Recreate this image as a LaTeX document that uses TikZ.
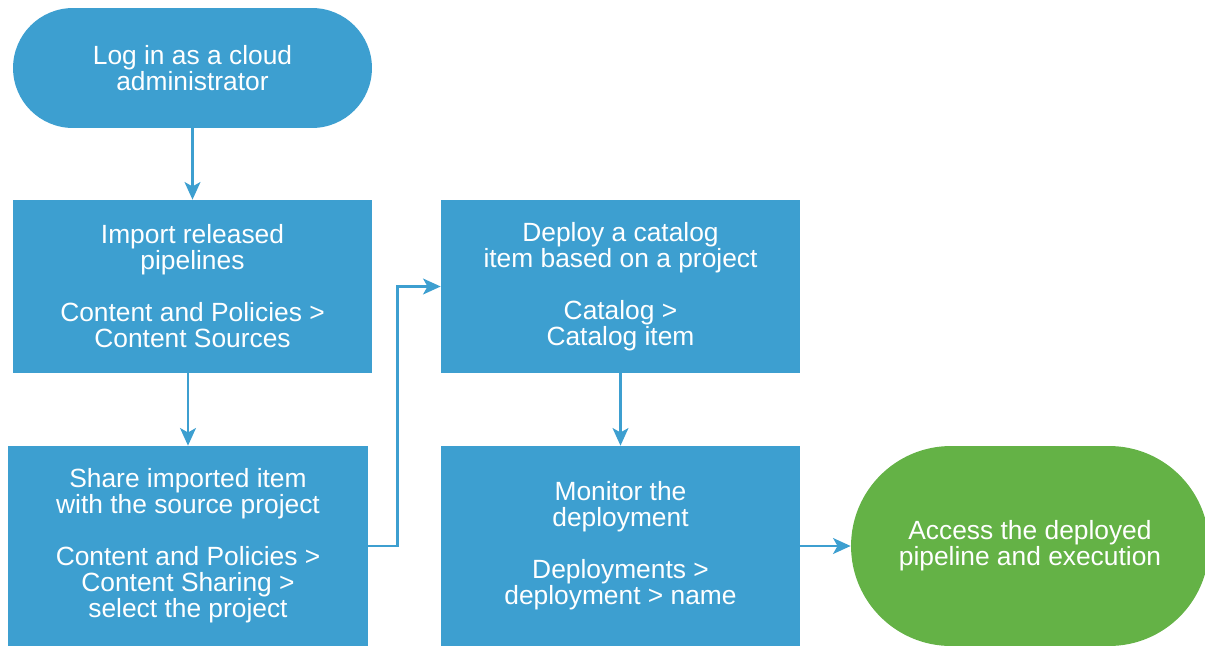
\documentclass[tikz,border=0pt]{standalone}
\usepackage{fontspec}
\setmainfont{Liberation Sans}
\usepackage{tikz}
\usetikzlibrary{arrows.meta}

\definecolor{flowblue}{HTML}{3D9FD0}
\definecolor{flowgreen}{HTML}{64B246}

\begin{document}
\begin{tikzpicture}[x=0.02cm,y=-0.02cm,
        step box/.style={fill=flowblue,draw=none,text=white,align=center,inner sep=0pt,
            font=\fontsize{15}{14.8}\selectfont},
        link/.style={draw=flowblue,line width=1.5pt,-{Stealth[length=10pt,width=9pt,inset=2.5pt]}}]
        \useasboundingbox (0,0) rectangle (1205,646);
        \node[step box,minimum width=7.18cm,minimum height=2.4cm,rounded corners=1.2cm] (login) at (192.5,68)
            {Log in as a cloud\\administrator};
        \node[step box,minimum width=7.18cm,minimum height=3.46cm] (import) at (192.5,286.5)
            {Import released\\pipelines\\[14.8pt]Content and Policies >\\Content Sources};
        \node[step box,minimum width=7.2cm,minimum height=4cm] (share) at (188,546)
            {Share imported item\\with the source project\\[14.8pt]Content and Policies >\\Content Sharing >\\select the project};
        \node[step box,minimum width=7.18cm,minimum height=3.46cm] (deploy) at (620.5,286.5)
            {Deploy a catalog\\item based on a project\\[14.8pt]Catalog >\\Catalog item};
        \node[step box,minimum width=7.18cm,minimum height=4cm] (monitor) at (620.5,546)
            {Monitor the\\deployment\\[14.8pt]Deployments >\\deployment > name};
        \node[step box,fill=flowgreen,minimum width=7.16cm,minimum height=4cm,rounded corners=2cm] (access) at (1030,546)
            {Access the deployed\\pipeline and execution};
        \draw[link] (login) -- (import);
        \draw[link] (share.north |- import.south) -- (share.north);
        \draw[link] (share.east) -- ++(29,0) |- (deploy.west);
        \draw[link] (deploy) -- (monitor);
        \draw[link] (monitor) -- (access);
    \end{tikzpicture}
\end{document}
